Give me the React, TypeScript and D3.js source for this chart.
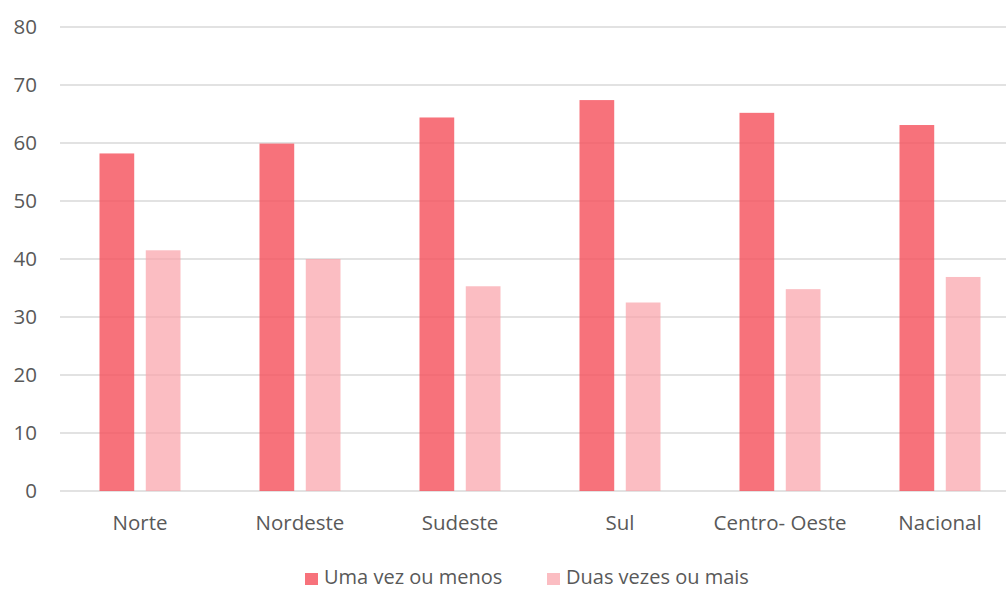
import * as d3 from 'd3';

const categories = ['Norte', 'Nordeste', 'Sudeste', 'Sul', 'Centro- Oeste', 'Nacional'];
const seriesNames = ['Uma vez ou menos', 'Duas vezes ou mais'];
const umaVez = [58.2, 59.9, 64.4, 67.4, 65.2, 63.1];
const duasVezes = [41.5, 40.0, 35.3, 32.5, 34.8, 36.9];
const yTicks = [0, 10, 20, 30, 40, 50, 60, 70, 80];

const colors = ['#f5535e', '#f9a3aa'];
const opacities = [0.82, 0.72];

const W = 1006;
const H = 589;
const font = '"Open Sans", sans-serif';

export default function App() {
  const x = d3.scaleBand<string>().domain(categories).range([60, 1020]);
  const y = d3.scaleLinear().domain([0, 80]).range([491, 27]);
  const inner = d3.scaleBand<number>().domain([0, 1]).range([0, 81]).paddingInner(0.25);
  const series = [umaVez, duasVezes];
  const bw = inner.bandwidth();

  return (
    <svg width={W} height={H} style={{ position: 'absolute', left: 0, top: 0 }} fontFamily={font}>
      <rect width={W} height={H} fill="#fff" />
      {yTicks.map((t) => (
        <g key={t}>
          <line x1={60} x2={W} y1={y(t)} y2={y(t)} stroke="#d9d9d9" strokeWidth={1.5} />
          <text x={37} y={y(t)} dy="0.36em" textAnchor="end" fontSize={20.5} fill="#595959">
            {t}
          </text>
        </g>
      ))}
      {series.map((vals, si) =>
        categories.map((c, i) => {
          const cx = x(c)! + x.bandwidth() / 2 - 40.5 + inner(si)!;
          return (
            <rect
              key={`${si}-${c}`}
              x={cx}
              y={y(vals[i])}
              width={bw}
              height={y(0) - y(vals[i])}
              fill={colors[si]}
              fillOpacity={opacities[si]}
            />
          );
        })
      )}
      {categories.map((c) => (
        <text
          key={c}
          x={x(c)! + x.bandwidth() / 2}
          y={523}
          dy="0.36em"
          textAnchor="middle"
          fontSize={20.5}
          fill="#595959"
        >
          {c}
        </text>
      ))}
      {seriesNames.map((s, i) => {
        const lx = [305, 547][i];
        return (
          <g key={s}>
            <rect x={lx} y={573} width={13} height={12} fill={colors[i]} fillOpacity={opacities[i]} />
            <text x={lx + 19} y={583.5} fontSize={20} fill="#595959">
              {s}
            </text>
          </g>
        );
      })}
    </svg>
  );
}
